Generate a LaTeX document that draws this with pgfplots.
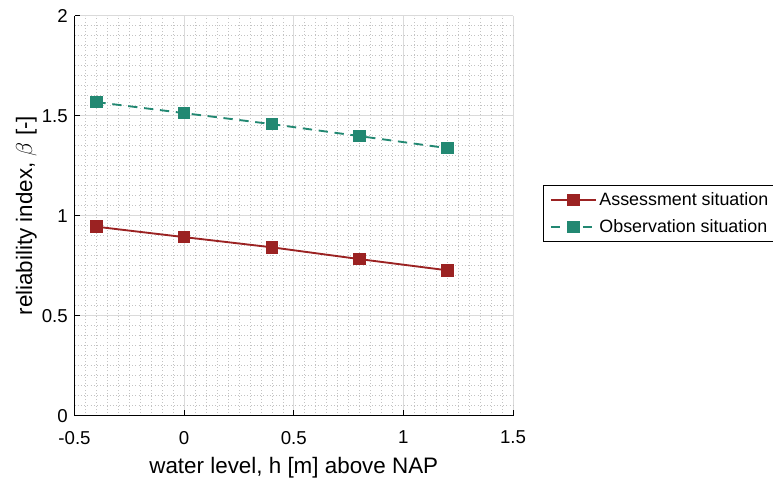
\documentclass[border=0pt]{standalone}
\usepackage{fontspec}
\setmainfont{Liberation Sans}
\usepackage{pgfplots}
\pgfplotsset{compat=1.18}

\definecolor{assess}{RGB}{155,34,34}
\definecolor{observ}{RGB}{34,136,114}
\definecolor{majgrid}{RGB}{218,218,218}
\definecolor{mingrid}{RGB}{195,195,195}

\pgfplotstableread{
h     beta
-0.4  0.945
0.0   0.893
0.4   0.842
0.8   0.783
1.2   0.727
}\assessment

\pgfplotstableread{
h     beta
-0.4  1.568
0.0   1.513
0.4   1.458
0.8   1.398
1.2   1.338
}\observation

\begin{document}
\begin{tikzpicture}
\begin{axis}[
  name=ax,
  scale only axis,
  width=328.9pt, height=300pt,
  xmin=-0.5, xmax=1.5, ymin=0, ymax=2,
  axis x line*=bottom, axis y line*=left,
  axis line style={black, line width=0.6pt, -},
  xtick={-0.5,0,0.5,1,1.5}, xticklabels={-0.5,0,0.5,1,1.5},
  ytick={0,0.5,1,1.5,2}, yticklabels={0,0.5,1,1.5,2},
  minor tick num=9,
  grid=both,
  major grid style={majgrid, line width=0.6pt},
  minor grid style={mingrid, dotted, line width=0.4pt},
  tick align=inside,
  major tick length=4pt, minor tick length=0pt,
  tick style={black, line width=0.6pt},
  ticklabel style={font=\fontsize{14}{16}\selectfont},
  xticklabel style={yshift=-8pt},
  yticklabel style={xshift=-1.5pt},
  label style={font=\fontsize{16.8}{20}\selectfont},
  xlabel={water level, h [m] above NAP},
  ylabel={reliability index, $\beta$ [-]},
  xlabel style={yshift=-3pt},
  ylabel style={yshift=-3pt},
  legend style={at={(1.068,0.577)}, anchor=north west, draw=black,
    line width=0.5pt, font=\fontsize{13.4}{16}\selectfont,
    inner xsep=5pt, inner ysep=3.5pt, row sep=5pt},
  legend cell align=left,
  legend image code/.code={
    \draw[mark repeat=2, mark phase=2, #1]
      plot coordinates {(0pt,0pt) (16.9pt,0pt) (33.8pt,0pt)};},
]
\addplot[assess, line width=1.4pt, mark=square*, mark size=4pt,
  mark options={solid}] table[x=h, y=beta] {\assessment};
\addlegendentry{Assessment situation}
\addplot[observ, line width=1.4pt, dash pattern=on 7pt off 5pt,
  mark=square*, mark size=4pt, mark options={solid}]
  table[x=h, y=beta] {\observation};
\addlegendentry{Observation situation}
\end{axis}
\pgfresetboundingbox
\path[use as bounding box]
  ([xshift=-55.9pt, yshift=-49pt]ax.south west) rectangle
  ([xshift=523.9pt, yshift=311.8pt]ax.south west);
\end{tikzpicture}
\end{document}
